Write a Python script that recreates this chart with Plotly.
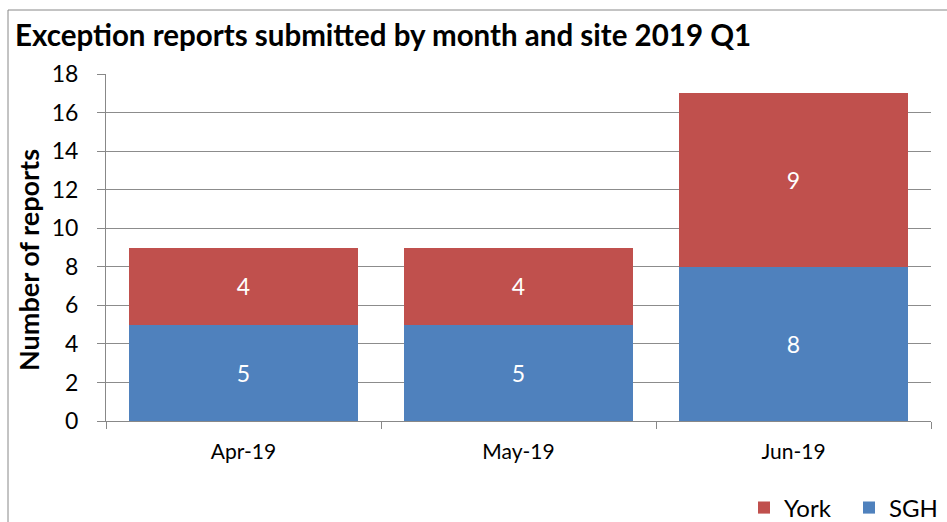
import plotly.graph_objects as go

months = ["Apr-19", "May-19", "Jun-19"]
sgh = [5, 5, 8]
york = [4, 4, 9]
y_ticks = [0, 2, 4, 6, 8, 10, 12, 14, 16, 18]

FONT = "Lato, Calibri, Carlito, sans-serif"
W, H = 947, 522
L, R, T, B = 106, 16, 74, 101
pw, ph = W - L - R, H - T - B

def px_x(p):
    return (p - L) / pw

def px_y(p):
    return (H - B - p) / ph

fig = go.Figure()
fig.add_trace(go.Bar(
    x=months, y=sgh, name="SGH", marker=dict(color="#4F81BD", line=dict(width=0)),
    text=sgh, textposition="inside", insidetextanchor="middle",
    textfont=dict(color="white", size=23, family=FONT), hoverinfo="skip"))
fig.add_trace(go.Bar(
    x=months, y=york, name="York", marker=dict(color="#C0504D", line=dict(width=0)),
    text=york, textposition="inside", insidetextanchor="middle",
    textfont=dict(color="white", size=23, family=FONT), hoverinfo="skip"))

fig.update_layout(
    width=W, height=H, barmode="stack", bargap=0.167,
    margin=dict(l=L, r=R, t=T, b=B),
    paper_bgcolor="white", plot_bgcolor="white",
    font=dict(family=FONT, color="black"),
    title=dict(text="<b>Exception reports submitted by month and site 2019 Q1</b>",
               x=15 / W, xanchor="left", y=1 - 36 / H, yanchor="middle",
               font=dict(size=29.5, family=FONT, color="black")),
    showlegend=True,
    legend=dict(orientation="h", traceorder="reversed", xref="container", yref="container",
                x=744 / W, xanchor="left", y=1 - 508 / H, yanchor="middle",
                entrywidth=60, entrywidthmode="pixels",
                font=dict(size=24, family=FONT), itemwidth=30, bgcolor="rgba(0,0,0,0)"),
    xaxis=dict(showline=True, linecolor="#888888", linewidth=1, ticks="outside",
               tickson="boundaries", ticklen=7, tickcolor="#888888", ticklabelstandoff=12,
               tickfont=dict(size=21, family=FONT), showgrid=False, fixedrange=True,
               automargin=False),
    yaxis=dict(range=[0, 18], tickvals=y_ticks, showline=True, linecolor="#888888",
               linewidth=1, ticks="outside", ticklen=8, tickcolor="#888888",
               ticklabelstandoff=14,
               showgrid=True, gridcolor="#8c8c8c", gridwidth=1,
               tickfont=dict(size=23, family=FONT), zeroline=False, fixedrange=True,
               automargin=False),
    annotations=[dict(text="<b>Number of reports</b>", textangle=-90, xref="paper", yref="paper",
                      x=px_x(28), y=px_y(260), xanchor="center", yanchor="middle", showarrow=False,
                      font=dict(size=27, family=FONT, color="black"))],
    shapes=[dict(type="rect", xref="paper", yref="paper", x0=px_x(8), x1=px_x(960),
                 y0=px_y(540), y1=px_y(10), line=dict(color="#888888", width=1),
                 fillcolor="rgba(0,0,0,0)", layer="below")],
)

fig.write_html("out.html", config={"displayModeBar": False},
               post_script="document.body.style.margin='0';document.body.style.overflow='hidden';")
